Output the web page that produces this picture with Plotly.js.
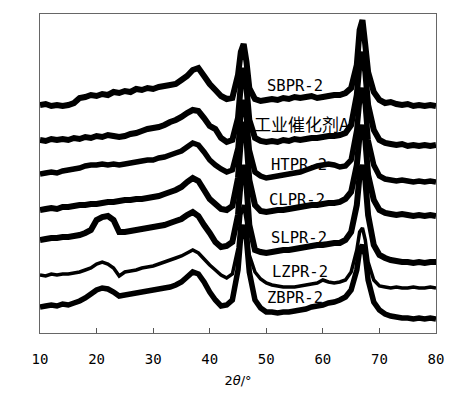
<!DOCTYPE html>
<html>
<head>
<meta charset="utf-8">
<script src="https://cdn.plot.ly/plotly-3.0.1.min.js"></script>
<style>html,body{margin:0;padding:0;background:#fff;}#chart{width:475px;height:395px;}</style>
</head>
<body>
<div id="chart"></div>
<script>
// 2θ positions (degrees)
const twoTheta = [10,11,12,13,14,15,16,17,18,19,20,21,22,23,24,25,26,27,28,29,30,31,32,33,34,35,36,37,38,39,40,41,42,43,44,45,
  45.5,46,46.5,
  47,48,49,50,51,52,53,54,55,56,57,58,59,60,61,62,63,64,65,66,
  66.5,67,67.5,
  68,69,70,71,72,73,74,75,76,77,78,79,80];

// Intensities (a.u., stacked with offsets as in the figure)
const SBPR2 = [228,229,227,228,227,228,230,235,236,238,237,239,238,241,240,242,241,244,243,245,244,246,247,248,249,253,257,263,265,257,249,243,237,234,235,258,
  281,289,271,
  245,234,232,233,234,233,235,234,236,235,236,237,235,236,237,238,238,240,245,268,
  303,313,288,
  261,241,233,230,231,229,228,229,227,228,227,228,227];
const catA = [193,192,194,193,194,193,195,194,196,195,197,196,198,197,196,197,199,200,202,204,205,206,208,211,213,216,220,223,222,215,207,204,195,191,193,215,
  248,265,245,
  213,195,192,191,192,191,193,192,194,193,194,195,195,196,197,197,198,200,208,238,
  271,281,261,
  228,203,193,190,189,188,189,187,188,187,188,187,188];
const HTPR2 = [159,160,161,160,162,163,164,165,167,168,168,169,168,169,168,169,170,171,172,173,173,175,176,178,180,182,186,190,188,181,173,168,164,161,163,185,
  218,233,215,
  183,161,157,155,156,157,158,159,160,161,163,165,167,168,169,168,166,167,173,203,
  233,245,228,
  193,168,157,154,153,152,153,152,151,152,151,152,151];
const CLPR2 = [123,124,125,124,126,126,127,128,128,129,129,130,131,131,132,133,133,134,134,135,136,137,139,141,143,146,151,155,152,143,134,129,124,123,127,155,
  193,211,193,
  153,128,122,121,122,123,123,124,125,126,127,128,128,129,130,130,131,134,141,168,
  198,208,193,
  158,133,123,120,119,118,119,118,117,118,117,118,117];
const SLPR2 = [93,94,95,95,96,96,97,98,100,103,113,116,117,113,101,101,102,103,104,105,106,107,108,110,112,114,118,121,117,108,100,91,86,87,91,118,
  153,168,148,
  108,83,81,80,81,82,83,83,84,85,86,87,88,88,89,90,90,93,101,128,
  158,168,153,
  118,88,78,75,73,72,71,71,70,71,70,71,71];
const LZPR2 = [58,57,59,58,59,59,60,61,63,65,69,71,69,65,57,61,62,63,65,66,67,69,71,73,75,77,80,83,80,74,68,63,58,55,59,85,
  118,128,111,
  78,61,54,50,48,47,46,46,46,47,48,49,50,53,51,50,51,53,61,83,
  101,105,93,
  71,53,47,46,45,46,45,45,46,45,45,46,45];
const ZBPR2 = [26,27,28,27,29,28,30,32,35,39,43,45,44,41,37,38,39,40,41,42,43,44,45,46,48,51,56,61,59,51,41,33,27,28,33,63,
  98,108,93,
  61,33,25,21,21,20,21,21,22,23,24,26,27,28,30,31,33,36,43,63,
  83,88,78,
  53,31,23,19,17,16,15,15,14,15,14,15,14];

const seriesNames = ["SBPR-2","工业催化剂A","HTPR-2","CLPR-2","SLPR-2","LZPR-2","ZBPR-2"];
const seriesData = [SBPR2, catA, HTPR2, CLPR2, SLPR2, LZPR2, ZBPR2];
const labelX = [55.1, 56.4, 55.7, 55.5, 55.7, 56.0, 55.1];
const labelY = [247, 210, 168, 133, 95, 61, 35];
const lineWidths = [6, 6, 5.5, 6, 6, 3.5, 5.5];

const traces = seriesData.map((ys, i) => ({
  x: twoTheta, y: ys, type: 'scatter', mode: 'lines', name: seriesNames[i],
  line: {color: '#000', width: lineWidths[i], simplify: false}, hoverinfo: 'skip'
}));

const annotations = seriesNames.map((t, i) => ({
  x: labelX[i], y: labelY[i], xref: 'x', yref: 'y', text: t, showarrow: false,
  font: {family: i === 1 ? '"Noto Sans CJK SC", "DejaVu Sans Mono"' : '"DejaVu Sans Mono", monospace', size: i === 1 ? 17 : 15.5, color: '#000'},
  xanchor: 'center', yanchor: 'middle'
}));

const layout = {
  width: 475, height: 395,
  margin: {l: 40, r: 39, t: 14, b: 62},
  paper_bgcolor: '#fff', plot_bgcolor: '#fff',
  showlegend: false,
  xaxis: {
    range: [10, 80], dtick: 10, tick0: 10, ticks: 'inside', ticklen: 5, tickwidth: 1, tickcolor: '#555',
    showline: true, linecolor: '#666', linewidth: 1, mirror: true, showgrid: false, zeroline: false,
    tickfont: {family: '"DejaVu Sans Mono", monospace', size: 14, color: '#000'},
    ticklabelstandoff: 13,
    title: {text: '2<i>θ</i>/°', font: {family: '"DejaVu Sans", sans-serif', size: 13, color: '#000'}, standoff: 10}
  },
  yaxis: {
    range: [0, 319], showticklabels: false, ticks: '', showline: true, linecolor: '#666', linewidth: 1,
    mirror: true, showgrid: false, zeroline: false
  },
  annotations: annotations
};

Plotly.newPlot('chart', traces, layout, {displayModeBar: false, staticPlot: true});
</script>
</body>
</html>
